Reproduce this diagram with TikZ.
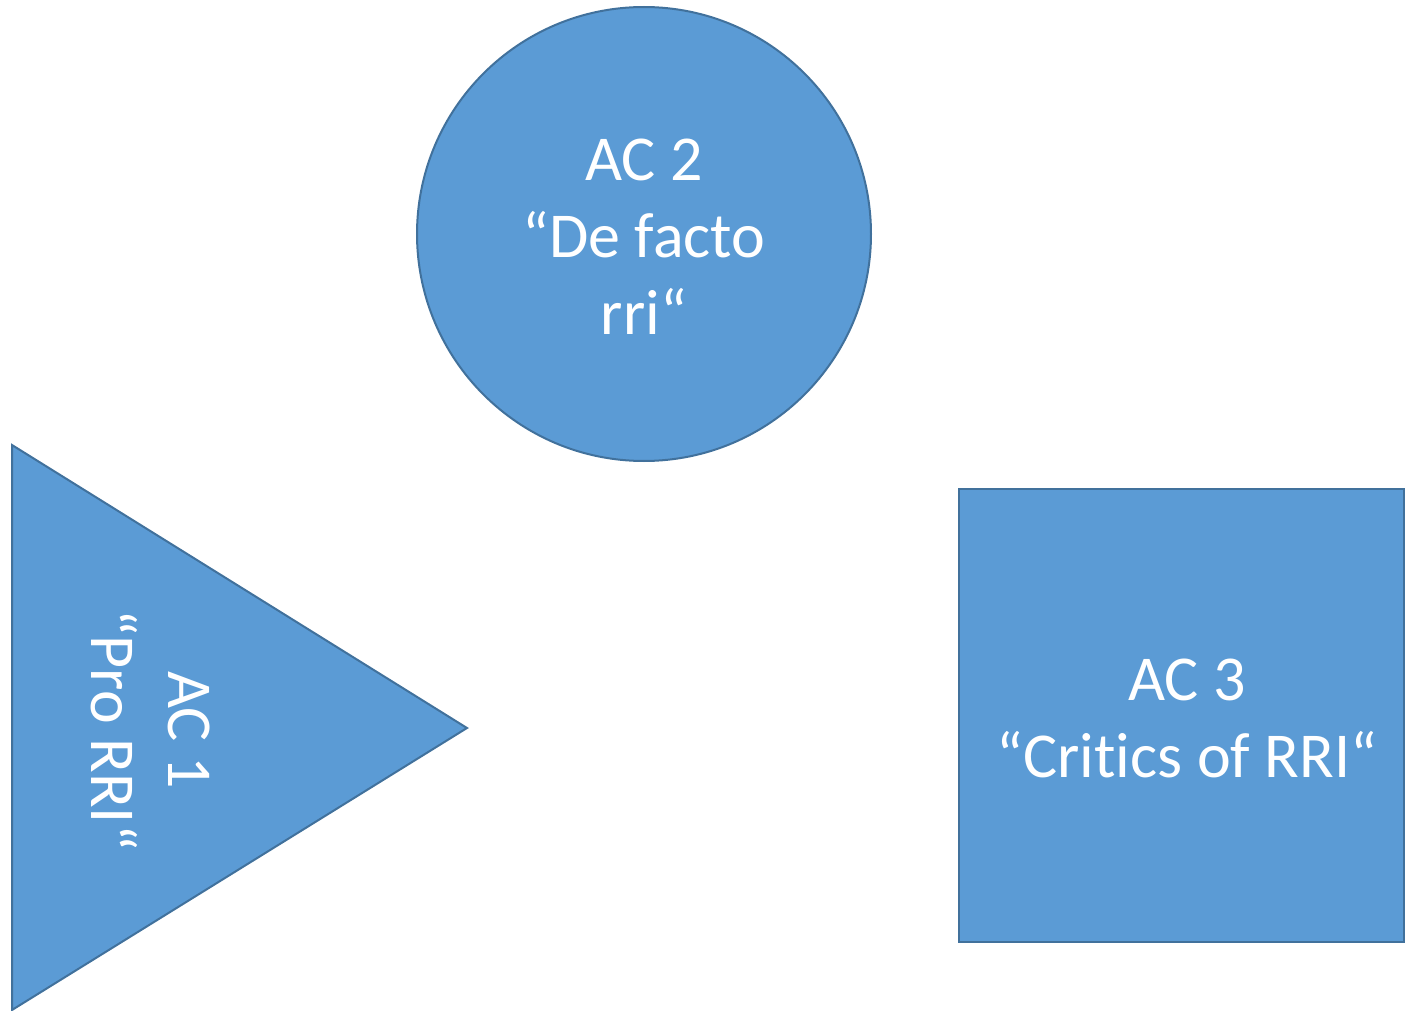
\documentclass[tikz,border=0pt]{standalone}
\usepackage{fontspec}
\setmainfont[Ligatures=NoCommon]{Carlito}
\definecolor{shapefill}{HTML}{5B9BD5}
\definecolor{shapeedge}{HTML}{41719C}
\begin{document}
\begin{tikzpicture}[x=0.5pt,y=-0.5pt,
  shp/.style={fill=shapefill,draw=shapeedge,line width=1pt},
  lbl/.style={text=white,align=center,font=\fontsize{32}{38.5}\selectfont}]
\useasboundingbox (0,0) rectangle (1405,1011);
\draw[shp] (644,234) circle[radius=227];
\draw[shp] (12,445) -- (467,728) -- (12,1010) -- cycle;
\draw[shp] (959,489) rectangle (1404,942);
\node[lbl] (ac2) at (644,237) {AC 2\\“De facto\\rri“};
\node[lbl,rotate=-90] (ac1) at (151,730) {AC 1\\“Pro RRI“};
\node[lbl] (ac3) at (1187,718) {AC 3\\“Critics of RRI“};
\end{tikzpicture}
\end{document}
